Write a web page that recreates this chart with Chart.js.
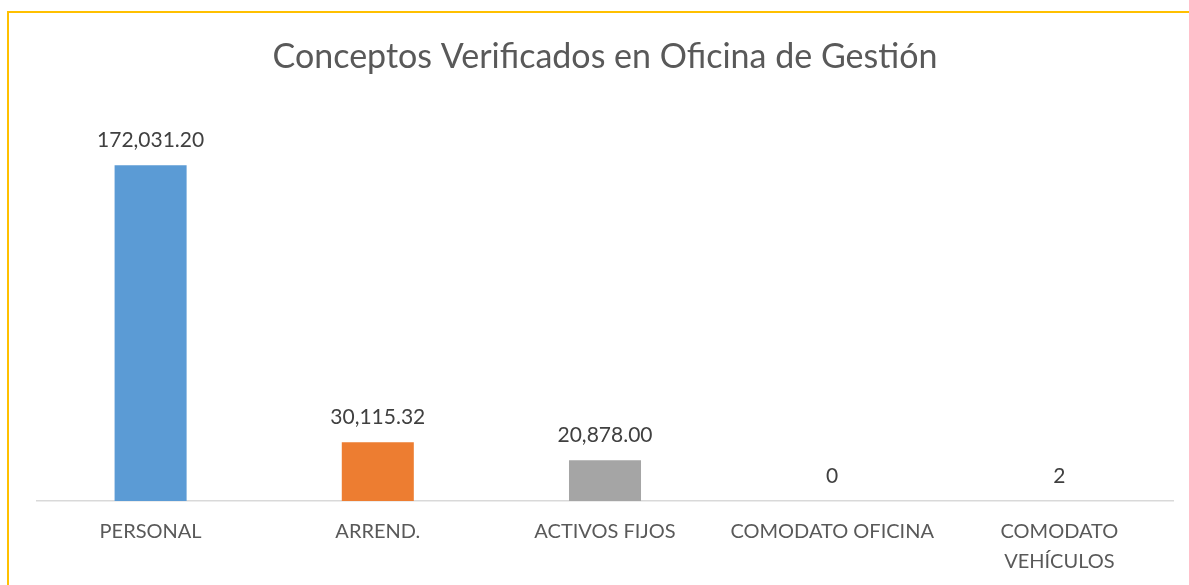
<!DOCTYPE html>
<html lang="es">
<head>
    <meta charset="UTF-8">
    <title>Conceptos Verificados en Oficina de Gestión</title>
    <script src="https://cdn.jsdelivr.net/npm/chart.js@4.4.1/dist/chart.umd.min.js"></script>
    <style>
        html, body { margin: 0; padding: 0; background: #fff; overflow: hidden; }
        #wrap { position: relative; width: 1189px; height: 585px; }
        #frame {
            position: absolute; left: 7px; top: 11px; width: 1200px; height: 600px;
            border: 2px solid #FFC000; box-sizing: border-box; pointer-events: none;
        }
        canvas { position: absolute; left: 0; top: 0; }
    </style>
</head>
<body>
<div id="wrap">
    <canvas id="chart" width="1189" height="585"></canvas>
    <div id="frame"></div>
</div>
<script>
  // data
  const categories = ["PERSONAL", "ARREND.", "ACTIVOS FIJOS", "COMODATO OFICINA", ["COMODATO", "VEHÍCULOS"]];
  const values = [172031.20, 30115.32, 20878.00, 0, 2];
  const decimals = [2, 2, 2, 0, 0];
  const barColors = ["#5B9BD5", "#ED7D31", "#A5A5A5", "#FFC000", "#4472C4"];

  const FONT = "Lato, 'Open Sans', sans-serif";

  function fmt(v, d) {
    return v.toLocaleString("en-US", { minimumFractionDigits: d, maximumFractionDigits: d });
  }

  // draws the value above each bar
  const valueLabels = {
    id: "valueLabels",
    afterDatasetsDraw(chart) {
      const ctx = chart.ctx;
      const meta = chart.getDatasetMeta(0);
      ctx.save();
      ctx.font = "21px " + FONT;
      ctx.fillStyle = "#404040";
      ctx.textAlign = "center";
      ctx.textBaseline = "middle";
      meta.data.forEach(function (bar, i) {
        ctx.fillText(fmt(values[i], decimals[i]), bar.x, bar.y - 25);
      });
      ctx.restore();
    }
  };

  new Chart(document.getElementById("chart"), {
    type: "bar",
    data: {
      labels: categories,
      datasets: [{
        data: values,
        backgroundColor: barColors,
        categoryPercentage: 1,
        barPercentage: 0.317
      }]
    },
    options: {
      responsive: false,
      animation: false,
      layout: { padding: { left: 37, right: 16, top: 0, bottom: 0 } },
      plugins: {
        legend: { display: false },
        tooltip: { enabled: false },
        title: {
          display: true,
          text: "Conceptos Verificados en Oficina de Gestión",
          color: "#595959",
          font: { family: FONT, size: 34, weight: "normal" },
          padding: { top: 37, bottom: 33 }
        }
      },
      scales: {
        x: {
          grid: { display: false, drawTicks: false },
          border: { display: true, color: "#D9D9D9", width: 1.5 },
          ticks: {
            color: "#595959",
            font: { family: FONT, size: 20, lineHeight: 1.5 },
            padding: 16,
            maxRotation: 0,
            autoSkip: false
          },
          afterFit(scale) { scale.height = 84; }
        },
        y: {
          display: false,
          min: 0,
          max: 200000
        }
      }
    },
    plugins: [valueLabels]
  });
</script>
</body>
</html>
